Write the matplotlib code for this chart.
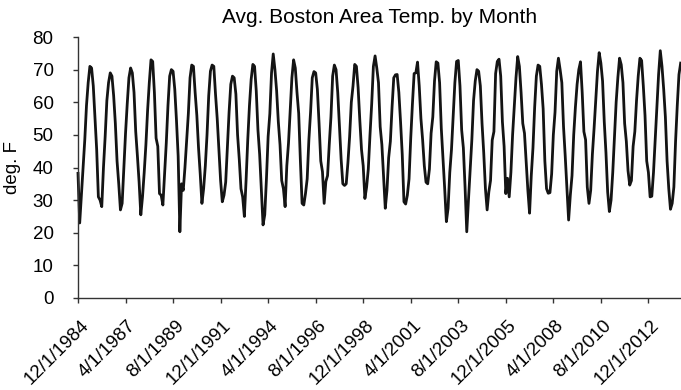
import matplotlib
matplotlib.use("Agg")
import matplotlib.pyplot as plt
import matplotlib.transforms as mtransforms
import numpy as np

# monthly mean temperature (deg F), Dec 1984 through Jul 2014
t1984 = [38.2]
t1985 = [23.0, 31.5, 39.5, 48.5, 59.0, 66.0, 71.0, 70.5, 65.0, 55.0, 45.5, 31.0]
t1986 = [30.0, 28.0, 40.0, 49.5, 60.5, 66.0, 69.0, 68.0, 62.0, 53.5, 42.0, 35.0]
t1987 = [27.0, 29.0, 39.5, 50.5, 59.5, 67.5, 70.5, 69.0, 63.0, 51.0, 43.5, 35.5]
t1988 = [25.5, 31.0, 38.5, 47.0, 57.5, 66.0, 73.0, 72.5, 63.0, 49.0, 46.5, 32.0]
t1989 = [31.5, 28.5, 38.0, 47.5, 59.0, 68.0, 70.0, 69.5, 64.0, 54.5, 43.5, 20.3]
t1990 = [35.0, 33.0, 40.0, 48.5, 56.5, 67.5, 71.4, 71.0, 63.0, 56.0, 46.0, 38.0]
t1991 = [29.0, 33.5, 40.5, 50.0, 62.0, 69.5, 71.4, 71.0, 62.5, 55.0, 45.5, 36.0]
t1992 = [29.5, 31.5, 35.5, 46.5, 57.0, 65.5, 68.0, 67.5, 62.5, 50.0, 42.5, 33.5]
t1993 = [31.0, 25.0, 36.0, 48.5, 59.0, 67.0, 71.6, 71.0, 63.5, 51.5, 44.0, 33.0]
t1994 = [22.4, 25.5, 36.5, 49.5, 56.5, 69.0, 74.8, 70.0, 63.5, 54.0, 47.0, 36.0]
t1995 = [33.5, 28.0, 40.5, 47.5, 57.5, 67.5, 73.0, 70.5, 63.0, 56.6, 42.0, 29.0]
t1996 = [28.5, 32.0, 36.5, 48.5, 57.0, 67.5, 69.4, 69.0, 64.0, 53.5, 42.0, 38.7]
t1997 = [29.0, 35.7, 37.5, 47.0, 55.5, 68.0, 71.4, 70.0, 63.0, 53.0, 42.5, 35.0]
t1998 = [34.5, 35.0, 41.5, 49.5, 60.0, 65.0, 71.6, 71.0, 64.5, 54.5, 45.5, 40.5]
t1999 = [30.5, 34.0, 39.5, 50.0, 59.5, 71.0, 74.2, 70.5, 66.0, 52.5, 47.0, 37.5]
t2000 = [27.5, 33.0, 43.0, 48.0, 58.5, 67.5, 68.4, 68.5, 63.0, 54.0, 44.0, 29.5]
t2001 = [28.8, 31.5, 36.5, 49.0, 59.5, 68.8, 69.0, 72.3, 65.0, 55.0, 48.5, 40.5]
t2002 = [35.5, 35.0, 39.5, 50.5, 55.5, 66.5, 72.4, 72.0, 66.0, 52.0, 43.0, 33.5]
t2003 = [23.4, 27.5, 38.5, 45.5, 55.5, 66.0, 72.5, 72.8, 65.0, 51.5, 46.0, 34.0]
t2004 = [20.3, 30.0, 39.0, 48.5, 60.5, 66.5, 70.0, 69.5, 65.0, 53.5, 44.5, 33.5]
t2005 = [27.0, 32.5, 36.0, 48.4, 51.0, 68.8, 72.5, 73.2, 68.0, 54.0, 46.5, 32.0]
t2006 = [36.7, 31.0, 38.5, 50.0, 58.5, 67.5, 74.0, 71.0, 63.0, 53.5, 50.5, 41.5]
t2007 = [33.0, 26.0, 37.5, 46.0, 58.5, 68.0, 71.4, 71.0, 65.5, 58.0, 42.0, 33.5]
t2008 = [32.1, 32.3, 38.0, 50.0, 57.0, 69.5, 73.5, 70.0, 66.0, 52.5, 43.5, 33.5]
t2009 = [23.9, 31.5, 37.5, 50.0, 58.5, 65.5, 70.0, 72.4, 63.0, 51.0, 48.5, 34.0]
t2010 = [29.0, 33.0, 44.0, 52.0, 61.0, 69.5, 75.2, 72.0, 66.5, 54.0, 44.5, 32.5]
t2011 = [26.5, 30.0, 38.5, 49.0, 60.0, 67.5, 73.5, 71.5, 66.0, 53.5, 48.0, 39.0]
t2012 = [34.6, 36.0, 46.5, 51.0, 60.5, 68.0, 73.5, 72.8, 65.0, 56.0, 42.0, 38.5]
t2013 = [31.0, 31.2, 38.5, 48.5, 59.0, 68.5, 75.8, 71.0, 64.0, 55.5, 42.0, 33.5]
t2014 = [27.2, 29.0, 34.0, 48.0, 59.0, 68.5, 72.0]

temps = np.concatenate([t1984, t1985, t1986, t1987, t1988, t1989, t1990, t1991,
                        t1992, t1993, t1994, t1995, t1996, t1997, t1998, t1999,
                        t2000, t2001, t2002, t2003, t2004, t2005, t2006, t2007,
                        t2008, t2009, t2010, t2011, t2012, t2013, t2014])
months = np.arange(len(temps))

tick_labels = ["12/1/1984", "4/1/1987", "8/1/1989", "12/1/1991", "4/1/1994",
               "8/1/1996", "12/1/1998", "4/1/2001", "8/1/2003", "12/1/2005",
               "4/1/2008", "8/1/2010", "12/1/2012"]
tick_pos = np.arange(len(tick_labels)) * 28

plt.rcParams['font.family'] = ['Liberation Sans', 'DejaVu Sans']

fig = plt.figure(figsize=(6.81, 3.90), dpi=100)
ax = fig.add_axes([78 / 681, 92 / 390, 603 / 681, 261 / 390])

ax.plot(months, temps, color='#141414', linewidth=2.0, clip_on=False)

ax.set_xlim(0, 355.2)
ax.set_ylim(0, 80)
ax.set_yticks(range(0, 81, 10))
ax.set_xticks(tick_pos)
ax.set_xticklabels(tick_labels, rotation=45, ha='right', va='top',
                   rotation_mode='anchor')

for side in ('top', 'right'):
    ax.spines[side].set_visible(False)
for side in ('left', 'bottom'):
    ax.spines[side].set_color('#333333')
    ax.spines[side].set_linewidth(1.0)

ax.tick_params(axis='both', colors='#333333', labelcolor='black',
               length=3.6, width=1.0, labelsize=13.5)
ax.tick_params(axis='y', pad=14)
ax.tick_params(axis='x', pad=10)

# nudge the slanted date labels a little to the right
shift = mtransforms.ScaledTranslation(2 / 100, 0, fig.dpi_scale_trans)
for lbl in ax.get_xticklabels():
    lbl.set_transform(lbl.get_transform() + shift)

ax.set_ylabel('deg. F', fontsize=13.5, labelpad=8)
ax.set_title('Avg. Boston Area Temp. by Month', fontsize=15, pad=10)

fig.savefig('out.png', dpi=100)
